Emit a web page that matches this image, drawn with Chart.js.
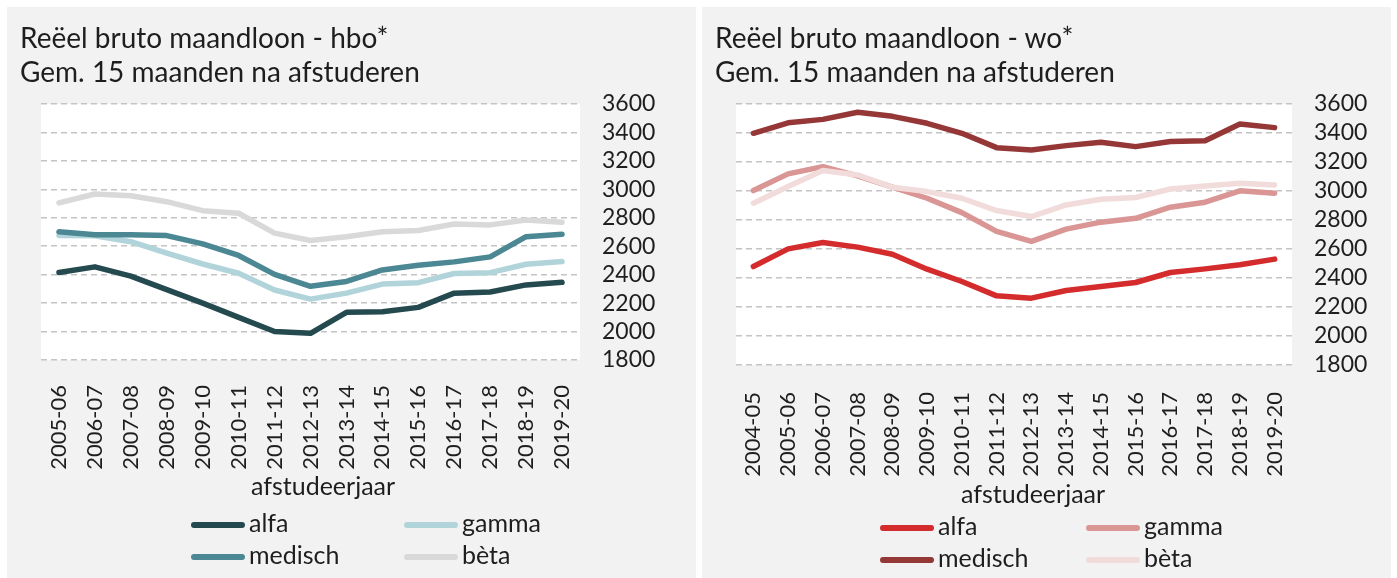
<!DOCTYPE html>
<html>
<head>
<meta charset="utf-8">
<script src="https://cdn.jsdelivr.net/npm/chart.js@4/dist/chart.umd.min.js"></script>
<style>
    body { margin: 0; background: #fff; font-family: Lato, sans-serif; }
    .paneel { position: absolute; top: 7px; width: 689px; height: 571px; background: #f2f2f2; }
    .paneel canvas { position: absolute; left: 0; top: 0; }
    .titel { position: absolute; left: 13px; top: 13px; font-size: 28px; line-height: 34px; color: #1e1e1e; white-space: nowrap; }
    .as-titel { position: absolute; font-size: 25px; line-height: 30px; color: #1e1e1e; white-space: nowrap; transform: translate(-50%, -50%); }
    .legenda-item { position: absolute; font-size: 25px; line-height: 26px; color: #1e1e1e; white-space: nowrap; }
    .legenda-item span { display: inline-block; width: 54px; height: 6px; border-radius: 3px; vertical-align: middle; margin-right: 4px; position: relative; top: -1px; }
</style>
</head>
<body>

<div class="paneel" id="paneelHbo" style="left:7px">
    <canvas id="lineChartHbo" width="689" height="571"></canvas>
    <div class="titel">Reëel bruto maandloon - hbo*<br>Gem. 15 maanden na afstuderen</div>
    <div class="as-titel" style="left:316px; top:478px">afstudeerjaar</div>
</div>

<div class="paneel" id="paneelWo" style="left:702px">
    <canvas id="lineChartWo" width="689" height="571"></canvas>
    <div class="titel">Reëel bruto maandloon - wo*<br>Gem. 15 maanden na afstuderen</div>
    <div class="as-titel" style="left:331px; top:486px">afstudeerjaar</div>
</div>

<script>
/*
 * Data hbo (afstudeerjaar 2005-06 t/m 2019-20)
 * */
var hboJaren = ['2005-06', '2006-07', '2007-08', '2008-09', '2009-10', '2010-11', '2011-12', '2012-13',
    '2013-14', '2014-15', '2015-16', '2016-17', '2017-18', '2018-19', '2019-20'];
var hboAlfa = [2415, 2455, 2390, 2295, 2200, 2100, 2000, 1988, 2135, 2140, 2170, 2270, 2278, 2328, 2346];
var hboGamma = [2676, 2674, 2632, 2552, 2475, 2410, 2292, 2228, 2270, 2334, 2344, 2408, 2414, 2473, 2492];
var hboMedisch = [2702, 2680, 2680, 2675, 2616, 2535, 2402, 2318, 2352, 2433, 2466, 2490, 2525, 2667, 2684];
var hboBeta = [2905, 2967, 2955, 2913, 2850, 2832, 2692, 2640, 2667, 2702, 2710, 2756, 2750, 2784, 2768];

/*
 * Data wo (afstudeerjaar 2004-05 t/m 2019-20)
 * */
var woJaren = ['2004-05', '2005-06', '2006-07', '2007-08', '2008-09', '2009-10', '2010-11', '2011-12',
    '2012-13', '2013-14', '2014-15', '2015-16', '2016-17', '2017-18', '2018-19', '2019-20'];
var woAlfa = [2479, 2601, 2645, 2613, 2564, 2461, 2376, 2277, 2261, 2314, 2341, 2369, 2438, 2463, 2491, 2530];
var woGamma = [3003, 3118, 3168, 3104, 3026, 2950, 2851, 2721, 2652, 2737, 2785, 2812, 2888, 2923, 3001, 2985];
var woMedisch = [3398, 3470, 3494, 3543, 3515, 3467, 3398, 3299, 3283, 3313, 3336, 3306, 3341, 3347, 3462, 3437];
var woBeta = [2916, 3031, 3141, 3111, 3026, 2996, 2950, 2865, 2824, 2904, 2943, 2955, 3014, 3035, 3053, 3042];

var yTicks = [1800, 2000, 2200, 2400, 2600, 2800, 3000, 3200, 3400, 3600];

var groepen = ['alfa', 'gamma', 'medisch', 'bèta'];
var hboKleuren = ['#244a50', '#b1d4db', '#4b8893', '#d9d9d9'];
var woKleuren = ['#d42c2c', '#d99695', '#953736', '#f2dcdb'];

var tekstKleur = '#1e1e1e';
var lettertype = 'Lato, sans-serif';

// witte achtergrond achter het plotgebied
var plotAchtergrond = {
    id: 'plotAchtergrond',
    beforeDraw: function (chart) {
        var ctx = chart.ctx;
        var area = chart.chartArea;
        ctx.save();
        ctx.fillStyle = '#ffffff';
        ctx.fillRect(area.left, area.top, area.right - area.left, area.bottom - area.top);
        ctx.restore();
    }
};

function ChartDataSet(label, data, kleur, volgorde) {
    this.label = label;
    this.data = data;
    this.borderColor = kleur;
    this.backgroundColor = kleur;
    this.borderWidth = 5.5;
    this.borderCapStyle = 'round';
    this.borderJoinStyle = 'round';
    this.pointRadius = 0;
    this.tension = 0;
    this.order = volgorde;
}

function loadChart(selectorId, labels, series, kleuren, maten) {
    var datasets = [];
    for (var i = 0; i < series.length; i++) {
        datasets.push(new ChartDataSet(groepen[i], series[i], kleuren[i], series.length - i));
    }

    var canvas = document.getElementById(selectorId);
    var ctx = canvas.getContext('2d');

    return new Chart(ctx, {
        type: 'line',
        data: { labels: labels, datasets: datasets },
        plugins: [plotAchtergrond],
        options: {
            responsive: false,
            animation: false,
            layout: { padding: { left: 34, top: 97, right: maten.rechts, bottom: maten.onder } },
            plugins: { legend: { display: false }, tooltip: { enabled: false } },
            scales: {
                x: {
                    offset: true,
                    grid: { display: false, drawTicks: false },
                    border: { display: false },
                    ticks: {
                        autoSkip: false, maxRotation: 90, minRotation: 90, padding: maten.labelAfstand,
                        color: tekstKleur, font: { family: lettertype, size: 22 }
                    },
                    afterFit: function (scale) { scale.height = maten.xHoogte; }
                },
                y: {
                    position: 'right',
                    min: yTicks[0],
                    max: yTicks[yTicks.length - 1],
                    afterBuildTicks: function (scale) {
                        scale.ticks = yTicks.map(function (v) { return { value: v }; });
                    },
                    grid: { color: '#c4c4c4', lineWidth: 1.5, drawTicks: false },
                    border: { display: false, dash: [6, 4] },
                    ticks: {
                        autoSkip: false,
                        padding: 22, color: tekstKleur, font: { family: lettertype, size: 23 },
                        callback: function (value) { return String(value); }
                    },
                    afterFit: function (scale) { scale.width = 90; }
                }
            }
        }
    });
}

function loadLegenda(paneelId, kleuren, posities) {
    var paneel = document.getElementById(paneelId);
    for (var i = 0; i < groepen.length; i++) {
        var item = document.createElement('div');
        item.className = 'legenda-item';
        item.style.left = posities.x[i % 2] + 'px';
        item.style.top = posities.y[Math.floor(i / 2)] + 'px';
        var lijn = document.createElement('span');
        lijn.style.background = kleuren[i];
        item.appendChild(lijn);
        item.appendChild(document.createTextNode(groepen[i]));
        paneel.appendChild(item);
    }
}

loadChart('lineChartHbo', hboJaren, [hboAlfa, hboGamma, hboMedisch, hboBeta], hboKleuren,
    { rechts: 26, onder: 81, xHoogte: 137, labelAfstand: 25 });
loadChart('lineChartWo', woJaren, [woAlfa, woGamma, woMedisch, woBeta], woKleuren,
    { rechts: 9, onder: 71, xHoogte: 142, labelAfstand: 27 });

loadLegenda('paneelHbo', hboKleuren, { x: [184, 397], y: [502, 534] });
loadLegenda('paneelWo', woKleuren, { x: [178, 384], y: [505, 537] });
</script>
</body>
</html>
